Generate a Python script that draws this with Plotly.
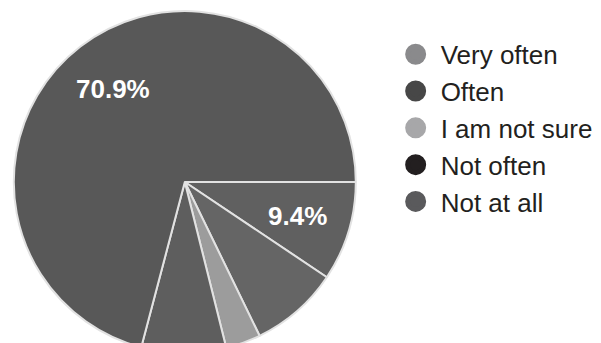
import math
import plotly.graph_objects as go

categories = ["Very often", "Often", "I am not sure", "Not often", "Not at all"]
values = [9.4, 8.4, 3.3, 8.0, 70.9]
show_label = [True, False, False, False, True]
slice_colors = ["#606060", "#656565", "#9c9c9c", "#5e5e5e", "#585858"]
legend_colors = ["#8a8a8c", "#474747", "#a7a7a9", "#231f20", "#5a5a5c"]

W, H, T = 601, 353, 11
R = 171
cx_px = 0.615 * W / 2
label_r = 0.69 * R

fig = go.Figure()
fig.add_trace(go.Pie(
    labels=categories, values=values, textinfo="none",
    marker=dict(colors=slice_colors, line=dict(color="#e2e2e2", width=2)),
    sort=False, direction="clockwise", rotation=90, showlegend=False,
    domain=dict(x=[0, 0.615], y=[0, 1]), hoverinfo="skip",
))
for cat, col in zip(categories, legend_colors):
    fig.add_trace(go.Scatter(
        x=[None], y=[None], mode="markers", name=cat, legendgroup=cat,
        marker=dict(size=16, color=col, line=dict(color=col, width=5)),
    ))

total = sum(values)
start = 0.0
for v, show in zip(values, show_label):
    mid = (start + v / 2) / total * 2 * math.pi  # clockwise from 3 o'clock
    start += v
    if not show:
        continue
    dx = label_r * math.cos(mid)
    dy = -label_r * math.sin(mid)  # clockwise -> downward on screen
    fig.add_annotation(
        x=(cx_px + dx) / W, y=0.5 + dy / (H - T), xref="paper", yref="paper",
        xanchor="center", yanchor="middle",
        text=f"{v / total * 100:.1f}%", showarrow=False,
        font=dict(family="Liberation Sans", size=26, color="white", weight="bold"),
    )

fig.update_layout(
    width=W, height=H,
    margin=dict(l=0, r=0, t=T, b=0),
    paper_bgcolor="white", plot_bgcolor="white",
    xaxis=dict(visible=False), yaxis=dict(visible=False),
    legend=dict(x=0.650, y=0.942, xanchor="left", yanchor="top",
                font=dict(family="Liberation Sans", size=26, color="#231f20"),
                itemwidth=40,
                traceorder="grouped", tracegroupgap=0, itemclick=False),
)
fig.write_html("out.html")
